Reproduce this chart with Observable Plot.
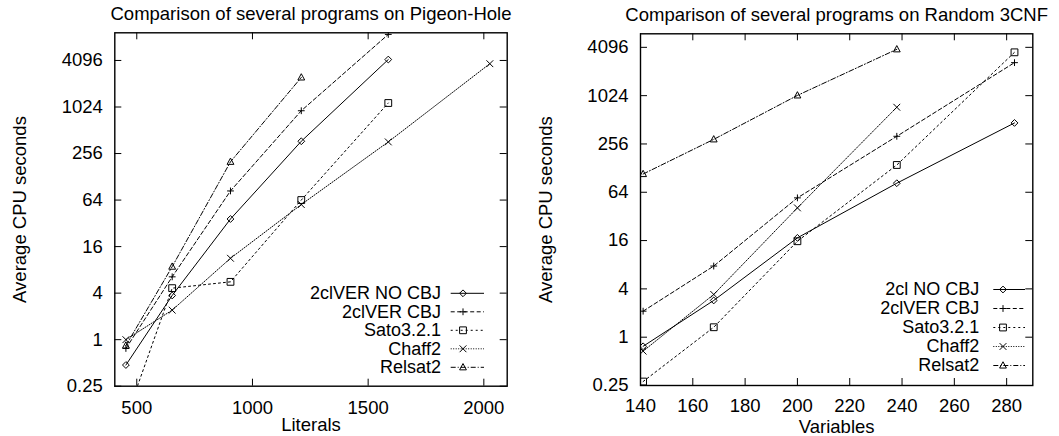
<!DOCTYPE html>
<html><head><meta charset="utf-8">
<script src="https://cdn.jsdelivr.net/npm/d3@7"></script>
<script src="https://cdn.jsdelivr.net/npm/@observablehq/plot@0.6"></script>
<style>
html,body{margin:0;padding:0;background:#fff;}
#wrap{display:flex;width:1059px;height:436px;background:#fff;}
#wrap svg{display:block;}
</style></head><body><div id="wrap"></div>
<script>
const FONT = '"Liberation Sans", Arial, Helvetica, sans-serif';
const FS = 18.5;
const LFS = 18;

// shared y ticks (Average CPU seconds, log scale)
const yTicks = [0.25, 1, 4, 16, 64, 256, 1024, 4096];
const yLabel = "Average CPU seconds";

// ---- Panel 1: Pigeon-Hole ----
const phTitle = "Comparison of several programs on Pigeon-Hole";
const phXLabel = "Literals";
const phXTicks = [500, 1000, 1500, 2000];
const phLiterals = [453, 653, 905, 1211, 1587];
const phChaffLiterals = [453, 653, 905, 1211, 1587, 2026];
const phRelsatLiterals = [453, 653, 905, 1211];
const ph2clNoCbj = [0.47, 3.73, 36.4, 369, 4210];
const ph2clCbj = [0.77, 6.5, 84, 916, 8900];
const phSato = [0.095, 4.64, 5.6, 64, 1153];
const phChaff = [1, 2.41, 11.3, 56, 362, 3720];
const phRelsat = [0.84, 8.8, 200, 2470];
const phNames = ["2clVER NO CBJ", "2clVER CBJ", "Sato3.2.1", "Chaff2", "Relsat2"];

// ---- Panel 2: Random 3CNF ----
const rTitle = "Comparison of several programs on Random 3CNF";
const rXLabel = "Variables";
const rXTicks = [140, 160, 180, 200, 220, 240, 260, 280];
const rVars = [141, 168, 200, 238, 283];
const rVars4 = [141, 168, 200, 238];
const r2clNoCbj = [0.77, 2.87, 17.3, 83, 468];
const r2clCbj = [2.11, 7.7, 54.5, 319, 2640];
const rSato = [0.28, 1.33, 15.7, 140, 3550];
const rChaff = [0.67, 3.41, 40.9, 734];
const rRelsat = [108, 292, 1031, 3870];
const rNames = ["2cl NO CBJ", "2clVER CBJ", "Sato3.2.1", "Chaff2", "Relsat2"];

// gnuplot-like point shapes (h = half size)
const shapes = {
  diamond(c, h) { c.moveTo(0, -h); c.lineTo(h, 0); c.lineTo(0, h); c.lineTo(-h, 0); c.closePath(); },
  plus(c, h) { c.moveTo(-h, 0); c.lineTo(h, 0); c.moveTo(0, -h); c.lineTo(0, h); },
  square(c, h) { c.moveTo(-h, -h); c.lineTo(h, -h); c.lineTo(h, h); c.lineTo(-h, h); c.closePath(); },
  times(c, h) { c.moveTo(-h, -h); c.lineTo(h, h); c.moveTo(h, -h); c.lineTo(-h, h); },
  triangle(c, h) { c.moveTo(0, -h * 1.1); c.lineTo(h, h * 0.75); c.lineTo(-h, h * 0.75); c.closePath(); }
};
const symbolOf = k => ({ draw(c, size) { shapes[k](c, Math.sqrt(size / Math.PI)); } });
const styles = [
  { shape: "diamond", dash: null },
  { shape: "plus", dash: "4,2.5" },
  { shape: "square", dash: "2,3" },
  { shape: "times", dash: "1,1.5" },
  { shape: "triangle", dash: "5,2,1,2" }
];
const R = 3.4;

function makePanel(cfg) {
  const { width, height, mL, mR, mT, mB } = cfg;
  const fw = width - mL - mR, fh = height - mT - mB;
  const marks = [];
  cfg.series.forEach((s, i) => {
    const rows = s.x.map((x, j) => ({ x, y: s.y[j] }));
    const st = styles[i];
    marks.push(Plot.line(rows, { x: "x", y: "y", stroke: "black", strokeWidth: 1, strokeDasharray: st.dash, clip: true }));
    marks.push(Plot.dot(rows, { x: "x", y: "y", symbol: symbolOf(st.shape), r: R, stroke: "black", fill: "none", strokeWidth: 1, clip: true }));
  });
  marks.push(
    Plot.tickY(yTicks, { y: d => d, insetRight: fw - 7, stroke: "black" }),
    Plot.tickY(yTicks, { y: d => d, insetLeft: fw - 7, stroke: "black" }),
    Plot.tickX(cfg.xTicks, { x: d => d, insetTop: fh - 7, stroke: "black" }),
    Plot.tickX(cfg.xTicks, { x: d => d, insetBottom: fh - 7, stroke: "black" }),
    Plot.axisY(yTicks, { tickSize: 0, tickPadding: 12, tickFormat: d => String(d), label: null, fontSize: FS }),
    Plot.axisX(cfg.xTicks, { tickSize: 0, tickPadding: cfg.xPad, tickFormat: d => String(d), label: null, fontSize: FS }),
    Plot.frame({ stroke: "black", strokeWidth: 1.4 }),
    Plot.text([cfg.title], { text: d => d, frameAnchor: "top", lineAnchor: "bottom", dy: -12.5, fontSize: FS, fill: "black" }),
    Plot.text([cfg.xLabel], { text: d => d, frameAnchor: "bottom", lineAnchor: "top", dy: cfg.xLabelDy, fontSize: FS, fill: "black" }),
    Plot.text([yLabel], { text: d => d, frameAnchor: "left", rotate: -90, lineAnchor: "bottom", textAnchor: "middle", dx: -89, fontSize: FS, fill: "black" })
  );
  const svg = Plot.plot({
    width, height, marginLeft: mL, marginRight: mR, marginTop: mT, marginBottom: mB,
    style: { fontFamily: FONT, fontSize: FS + "px", background: "white", color: "black" },
    x: { domain: cfg.xDomain },
    y: { type: "log", base: 2, domain: cfg.yDomain },
    marks
  });
  // key (legend), bottom-right inside frame
  const L = cfg.legend;
  const g = d3.select(svg).append("g");
  cfg.names.forEach((name, i) => {
    const y = L.y0 + i * L.dy;
    g.append("text").attr("x", L.textRight).attr("y", y).attr("dy", "0.32em")
      .attr("text-anchor", "end").attr("font-family", FONT).attr("font-size", LFS).attr("fill", "black").text(name);
    g.append("line").attr("x1", L.x1).attr("x2", L.x2).attr("y1", y).attr("y2", y)
      .attr("stroke", "black").attr("stroke-width", 1).attr("stroke-dasharray", styles[i].dash);
    const p = d3.path(); shapes[styles[i].shape](p, R);
    g.append("path").attr("d", p.toString()).attr("transform", `translate(${L.marker},${y})`)
      .attr("fill", "none").attr("stroke", "black").attr("stroke-width", 1);
  });
  return svg;
}

const left = makePanel({
  width: 530, height: 436, mL: 114.3, mR: 23.3, mT: 32.3, mB: 50.3,
  title: phTitle, xLabel: phXLabel, xTicks: phXTicks, xPad: 15, xLabelDy: 32,
  xDomain: [405, 2101], yDomain: [0.25, 9340],
  names: phNames,
  series: [
    { x: phLiterals, y: ph2clNoCbj },
    { x: phLiterals, y: ph2clCbj },
    { x: phLiterals, y: phSato },
    { x: phChaffLiterals, y: phChaff },
    { x: phRelsatLiterals, y: phRelsat }
  ],
  legend: { y0: 293.3, dy: 18.5, textRight: 441, x1: 450.7, x2: 484, marker: 463 }
});
const right = makePanel({
  width: 529, height: 436, mL: 110, mR: 26.7, mT: 33.3, mB: 51,
  title: rTitle, xLabel: rXLabel, xTicks: rXTicks, xPad: 13, xLabelDy: 34.5,
  xDomain: [140, 290], yDomain: [0.25, 6040],
  names: rNames,
  series: [
    { x: rVars, y: r2clNoCbj },
    { x: rVars, y: r2clCbj },
    { x: rVars, y: rSato },
    { x: rVars4, y: rChaff },
    { x: rVars4, y: rRelsat }
  ],
  legend: { y0: 289.5, dy: 19, textRight: 449.3, x1: 463.3, x2: 495, marker: 473 }
});
document.getElementById("wrap").append(left, right);
</script>
</body></html>
